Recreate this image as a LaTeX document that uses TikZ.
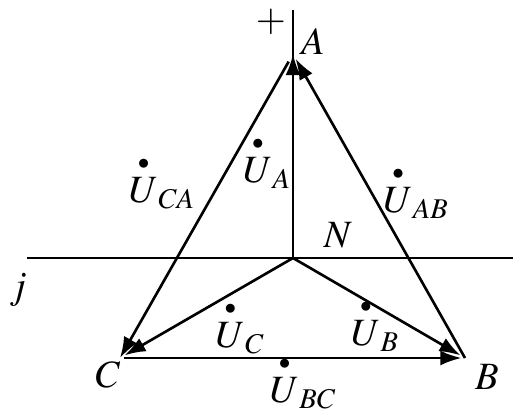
\documentclass[tikz,border=0pt]{standalone}
\usepackage{amsmath}
\usepackage{mathptmx}
\usepackage{tikz}
\usetikzlibrary{arrows.meta}
\newcommand{\phasor}[1]{\overset{\scriptscriptstyle\bullet}{#1}}

\begin{document}
\begin{tikzpicture}[x=0.02cm, y=-0.02cm, line width=1.5pt,
    vec/.style={-{Latex[length=12pt, width=8.5pt]}, line width=1.5pt},
    lbl/.style={font=\fontsize{22}{24}\selectfont, inner sep=1pt}]
    \useasboundingbox (0,0) rectangle (513,417);
    % Trục tọa độ
    \coordinate (N) at (293,258);
    \coordinate (top) at (293,10);
    \coordinate (west) at (27,258);
    \coordinate (east) at (513,258);
    \draw (west) -- (east);
    \draw (N) -- (top);
    \node[lbl] (plus) at (271,22) {$+$};
    \node[lbl] (j) at (18,290) {$j$};
    \node[lbl] (nN) at (338,235) {$N$};

    % Các đỉnh
    \coordinate (A) at (293,54);
    \coordinate (B) at (465,358);
    \coordinate (C) at (120,358);
    \node[lbl] (nA) at (313,42) {$A$};
    \node[lbl] (nB) at (487,377) {$B$};
    \node[lbl] (nC) at (108,375) {$C$};

    % Điện áp pha
    \draw[vec] (N) -- (A);
    \draw[vec, shorten >=3pt] (N) -- (B);
    \draw[vec, shorten >=3pt] (N) -- (C);
    \node[lbl] (UA) at (267,162) {$\phasor{U}_A$};
    \node[lbl] (UB) at (375,325) {$\phasor{U}_B$};
    \node[lbl] (UC) at (240,327) {$\phasor{U}_C$};

    % Điện áp dây
    \draw[vec, shorten <=5pt] (A) -- (C);
    \draw[vec, shorten >=3pt] (B) -- (A);
    \draw[vec, shorten <=2pt, shorten >=2pt] (C) -- (B);
    \node[lbl] (UCA) at (162,182) {$\phasor{U}_{CA}$};
    \node[lbl] (UAB) at (416,192) {$\phasor{U}_{AB}$};
    \node[lbl] (UBC) at (303,382) {$\phasor{U}_{BC}$};
\end{tikzpicture}
\end{document}
